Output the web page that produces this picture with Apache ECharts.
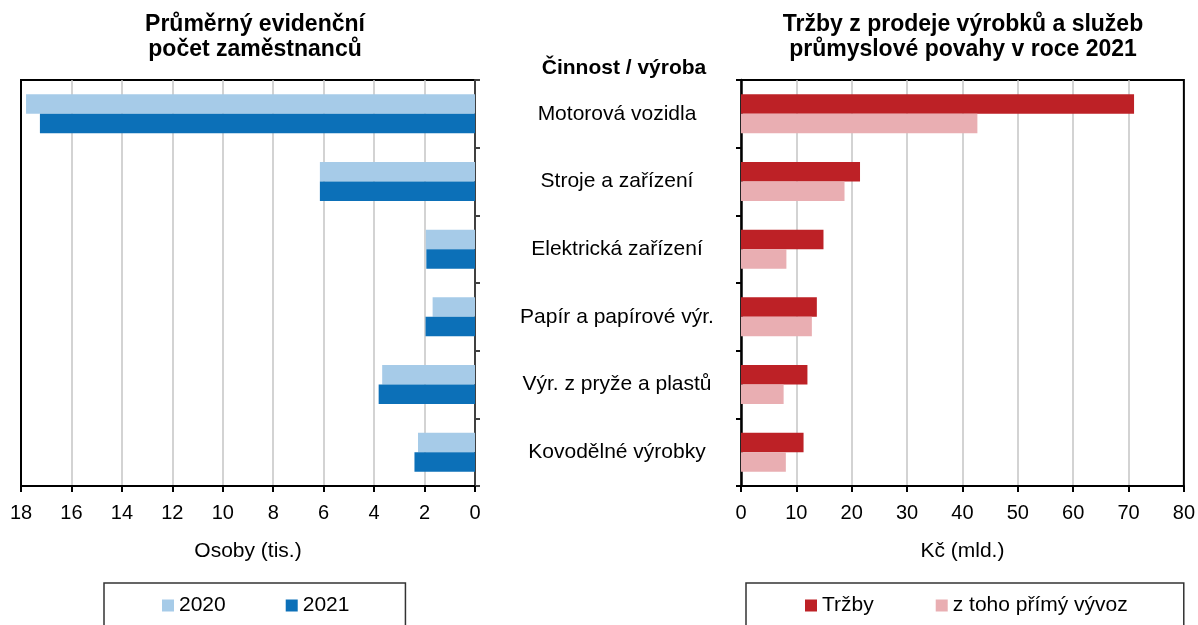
<!DOCTYPE html>
<html>
<head>
<meta charset="utf-8">
<script src="https://cdn.jsdelivr.net/npm/echarts@6/dist/echarts.min.js"></script>
<style>
  html, body { margin: 0; padding: 0; background: #fff; }
  #main { width: 1198px; height: 625px; }
</style>
</head>
<body>
<div id="main"></div>
<script>
// kategorie (shora dolů)
var categories = ['Motorová vozidla', 'Stroje a zařízení', 'Elektrická zařízení',
  'Papír a papírové výr.', 'Výr. z pryže a plastů', 'Kovodělné výrobky'];

// průměrný evidenční počet zaměstnanců (tis. osob)
var staff2020 = [17.8, 6.15, 1.95, 1.68, 3.68, 2.26];
var staff2021 = [17.25, 6.15, 1.93, 1.96, 3.82, 2.4];

// tržby a z toho přímý vývoz (mld. Kč)
var sales = [71.0, 21.5, 14.9, 13.7, 12.0, 11.3];
var exportSales = [42.7, 18.7, 8.2, 12.8, 7.7, 8.1];

var leftTicks = { min: 0, max: 18, interval: 2 };
var rightTicks = { min: 0, max: 80, interval: 10 };

var font = "'Liberation Sans', Arial, Helvetica, sans-serif";
var myChart = echarts.init(document.getElementById('main'));

var valueAxisBase = {
  type: 'value',
  nameLocation: 'middle',
  nameGap: 55,
  nameTextStyle: { fontFamily: font, fontSize: 21, color: '#000' },
  axisLine: { show: true, lineStyle: { color: '#000', width: 2 } },
  axisTick: { show: true, length: 6, lineStyle: { color: '#000', width: 2 } },
  axisLabel: { fontFamily: font, fontSize: 20, color: '#000', margin: 17 },
  splitLine: { show: true, showMaxLine: false, lineStyle: { color: '#c4c4c4', width: 1.5 } }
};

myChart.setOption({
  animation: false,
  textStyle: { fontFamily: font },
  title: [{
    text: 'Průměrný evidenční\npočet zaměstnanců',
    left: 250, top: 7, textAlign: 'center',
    textStyle: { fontFamily: font, fontSize: 23, fontWeight: 'bold', color: '#000', lineHeight: 25 }
  }, {
    text: 'Tržby z prodeje výrobků a služeb\nprůmyslové povahy v roce 2021',
    left: 958, top: 7, textAlign: 'center',
    textStyle: { fontFamily: font, fontSize: 23, fontWeight: 'bold', color: '#000', lineHeight: 25 }
  }, {
    text: 'Činnost / výroba',
    left: 619, top: 53, textAlign: 'center',
    textStyle: { fontFamily: font, fontSize: 21, fontWeight: 'bold', color: '#000' }
  }],
  legend: [{
    data: ['2020', '2021'],
    left: 104, top: 583,
    padding: [12, 56, 40, 58],
    borderColor: '#333', borderWidth: 1.5,
    icon: 'rect', itemWidth: 12, itemHeight: 12, itemGap: 60,
    textStyle: { fontFamily: font, fontSize: 21, color: '#000' }
  }, {
    data: ['Tržby', 'z toho přímý vývoz'],
    left: 746, top: 583,
    padding: [12, 56, 40, 59],
    borderColor: '#333', borderWidth: 1.5,
    icon: 'rect', itemWidth: 12, itemHeight: 12, itemGap: 62,
    textStyle: { fontFamily: font, fontSize: 21, color: '#000' }
  }],
  grid: [{
    left: 21, top: 80, width: 454, height: 406,
    show: true, borderColor: '#000', borderWidth: 2
  }, {
    left: 741, top: 80, width: 444, height: 406,
    show: true, borderColor: '#000', borderWidth: 2
  }],
  xAxis: [
    Object.assign({}, valueAxisBase, {
      gridIndex: 0, inverse: true, name: 'Osoby (tis.)',
      min: leftTicks.min, max: leftTicks.max, interval: leftTicks.interval
    }),
    Object.assign({}, valueAxisBase, {
      gridIndex: 1, name: 'Kč (mld.)',
      min: rightTicks.min, max: rightTicks.max, interval: rightTicks.interval
    })
  ],
  yAxis: [{
    type: 'category', gridIndex: 0, data: categories, inverse: true, position: 'right',
    axisLine: { lineStyle: { color: '#404040', width: 2 } },
    axisTick: { show: true, length: 5, lineStyle: { color: '#404040', width: 2 } },
    axisLabel: { show: false }
  }, {
    type: 'category', gridIndex: 1, data: categories, inverse: true, position: 'left',
    axisLine: { lineStyle: { color: '#000', width: 2.5 } },
    axisTick: { show: true, length: 5, lineStyle: { color: '#000', width: 2 } },
    axisLabel: { fontFamily: font, fontSize: 21, color: '#000', align: 'center', margin: 124 }
  }],
  series: [{
    name: '2020', type: 'bar', xAxisIndex: 0, yAxisIndex: 0,
    data: staff2020, barWidth: 19.5, barGap: '0%',
    itemStyle: { color: '#a6cbe8' }
  }, {
    name: '2021', type: 'bar', xAxisIndex: 0, yAxisIndex: 0,
    data: staff2021, barWidth: 19.5, barGap: '0%',
    itemStyle: { color: '#0c70b8' }
  }, {
    name: 'Tržby', type: 'bar', xAxisIndex: 1, yAxisIndex: 1,
    data: sales, barWidth: 19.5, barGap: '0%',
    itemStyle: { color: '#bd2126' }
  }, {
    name: 'z toho přímý vývoz', type: 'bar', xAxisIndex: 1, yAxisIndex: 1,
    data: exportSales, barWidth: 19.5, barGap: '0%',
    itemStyle: { color: '#e9aeb2' }
  }]
});
</script>
</body>
</html>
